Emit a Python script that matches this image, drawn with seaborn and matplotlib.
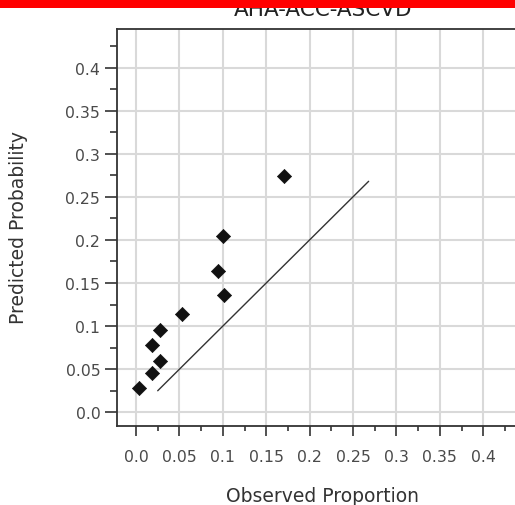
import matplotlib
matplotlib.use("Agg")
import matplotlib.pyplot as plt
import matplotlib.patches as mpatches
from matplotlib.ticker import FixedLocator, FixedFormatter, MultipleLocator
import seaborn as sns
import pandas as pd

# ---- data ----
observed = [0.004, 0.018, 0.018, 0.028, 0.028, 0.053, 0.094, 0.100, 0.101, 0.171]
predicted = [0.028, 0.046, 0.078, 0.060, 0.096, 0.114, 0.164, 0.204, 0.136, 0.274]
diag_x = [0.025, 0.268]
diag_y = [0.025, 0.268]
tick_vals = [0.0, 0.05, 0.1, 0.15, 0.2, 0.25, 0.3, 0.35, 0.4]
tick_labels = ["0.0", "0.05", "0.1", "0.15", "0.2", "0.25", "0.3", "0.35", "0.4"]
title = "AHA-ACC-ASCVD"
xlabel = "Observed Proportion"
ylabel = "Predicted Probability"

sns.set_style("white")
plt.rcParams['font.family'] = ['DejaVu Sans']

fig = plt.figure(figsize=(5.15, 5.06), dpi=100)
ax = fig.add_axes([117/515, 79/506, 398/515, 397/506])

df = pd.DataFrame({"obs": observed, "pred": predicted})
line_df = pd.DataFrame({"x": diag_x, "y": diag_y})

sns.lineplot(data=line_df, x="x", y="y", ax=ax, color="#333333", lw=1.0, zorder=2)
sns.scatterplot(data=df, x="obs", y="pred", ax=ax, marker="D", s=52,
                color="#111111", edgecolor="#111111", linewidth=0.5, zorder=3)

ax.set_xlim(-0.0219, 0.4366)
ax.set_ylim(-0.0159, 0.4447)

for axis in (ax.xaxis, ax.yaxis):
    axis.set_major_locator(FixedLocator(tick_vals))
    axis.set_major_formatter(FixedFormatter(tick_labels))
    axis.set_minor_locator(MultipleLocator(0.025))

ax.grid(True, which="major", color="#d9d9d9", lw=1.5, zorder=0)
ax.set_axisbelow(True)

ax.tick_params(axis="x", which="major", direction="out", length=7.5, width=1.2,
               color="#333333", labelsize=11.3, labelcolor="#4a4a4a", pad=9, bottom=True)
ax.tick_params(axis="x", which="minor", direction="out", length=3.8, width=1.2,
               color="#333333", bottom=True)
ax.tick_params(axis="y", which="major", direction="out", length=8.5, width=1.2,
               color="#333333", labelsize=11.3, labelcolor="#4a4a4a", pad=3.5, left=True)
ax.tick_params(axis="y", which="minor", direction="out", length=5, width=1.2,
               color="#333333", left=True)

for side in ("left", "top", "bottom"):
    ax.spines[side].set_color("#333333")
    ax.spines[side].set_linewidth(1.3)
ax.spines["right"].set_visible(False)

ax.set_xlabel(xlabel, fontsize=13.5, color="#333333", labelpad=12)
ax.set_ylabel(ylabel, fontsize=13.5, color="#333333", labelpad=10)
ax.xaxis.set_label_coords((323-117)/398, -(487-427)/397)
ax.yaxis.set_label_coords(-(117-28)/398, (427-228)/397)

fig.text(323/515, 1 - 16.5/506, title, ha="center", va="baseline",
         fontsize=15.5, color="#222222", zorder=1)
fig.patches.append(mpatches.Rectangle((0, 1 - 9/506), 1, 9/506, transform=fig.transFigure,
                                      facecolor="#ff0000", edgecolor="none", zorder=10))

fig.savefig("out.png", dpi=100)
